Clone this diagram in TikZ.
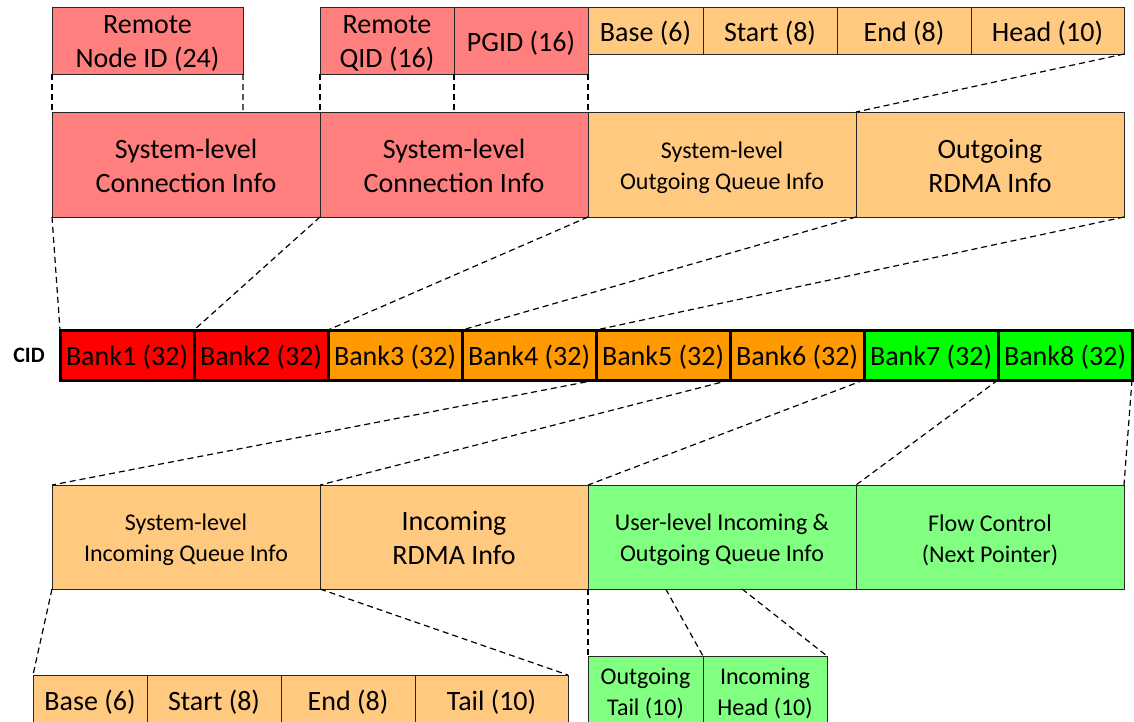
\documentclass[tikz,border=0pt]{standalone}
\usepackage{fontspec}
\setmainfont{Carlito}
\usetikzlibrary{calc}

\definecolor{connred}{HTML}{FF7F7F}
\definecolor{queueorange}{HTML}{FFCA80}
\definecolor{flowgreen}{HTML}{80FF80}
\definecolor{bankred}{HTML}{FF0000}
\definecolor{bankorange}{HTML}{FF9900}
\definecolor{bankgreen}{HTML}{00FF00}

\tikzset{
  % first-line strut that lowers a single text line inside its box
  drop/.style={execute at begin node={\rule{0pt}{#1}}},
  field/.style={draw=black!85, line width=0.8pt, inner sep=0pt, outer sep=0pt,
    align=center, font=\fontsize{28}{34}\selectfont, drop=21pt},
  topfield/.style={field, drop=25pt},
  bank/.style={draw=black, line width=3pt, inner sep=0pt, outer sep=0pt,
    minimum width=134pt, minimum height=50pt, font=\fontsize{28}{34}\selectfont, drop=24pt},
  % two-line captions, set as a centred label with a small downward offset
  bigtext/.style={inner sep=0pt, align=center, font=\fontsize{28}{34}\selectfont},
  smalltext/.style={inner sep=0pt, align=center, font=\fontsize{24}{31}\selectfont},
  twoline/.style 2 args={label={[bigtext, yshift=#1]center:{#2}}},
  smalltwo/.style 2 args={label={[smalltext, yshift=#1]center:{#2}}},
  zoomline/.style={draw=black, line width=1.2pt, dash pattern=on 6pt off 4pt},
}

\begin{document}
\begin{tikzpicture}[x=1pt,y=-1pt]
\useasboundingbox (0,0) rectangle (1134,721);
\clip (0,0) rectangle (1134,721);

% ---- top-level field breakdown ----
\node[field, fill=connred, minimum width=191pt, minimum height=67pt,
  twoline={-3pt}{Remote\\Node ID (24)}] (rnid) at (147.5,40.5) {};
\node[field, fill=connred, minimum width=134pt, minimum height=67pt,
  twoline={-3pt}{Remote\\QID (16)}] (rqid) at (387,40.5) {};
\node[topfield, fill=connred, minimum width=134pt, minimum height=67pt] (pgid) at (521,40.5) {PGID (16)};
\node[topfield, fill=queueorange, minimum width=115pt, minimum height=47pt] (obase) at (645.5,30.5) {Base (6)};
\node[topfield, fill=queueorange, minimum width=134pt, minimum height=47pt] (ostart) at (770,30.5) {Start (8)};
\node[topfield, fill=queueorange, minimum width=134pt, minimum height=47pt] (oend) at (904,30.5) {End (8)};
\node[topfield, fill=queueorange, minimum width=153pt, minimum height=47pt] (ohead) at (1047.5,30.5) {Head (10)};

% ---- upper bank groups ----
\node[field, fill=connred, minimum width=268pt, minimum height=105pt,
  twoline={-1pt}{System-level\\Connection Info}] (sc1) at (186,164.5) {};
\node[field, fill=connred, minimum width=268pt, minimum height=105pt,
  twoline={-1pt}{System-level\\Connection Info}] (sc2) at (454,164.5) {};
\node[field, fill=queueorange, minimum width=268pt, minimum height=105pt,
  smalltwo={-3pt}{System-level\\Outgoing Queue Info}] (soq) at (722,164.5) {};
\node[field, fill=queueorange, minimum width=268pt, minimum height=105pt,
  twoline={-1pt}{Outgoing\\RDMA Info}] (ordma) at (990,164.5) {};

% ---- CID banks ----
\node[font=\fontsize{22}{26}\selectfont\bfseries] (cid) at (29,355) {CID};
\foreach \i/\c in {1/bankred,2/bankred,3/bankorange,4/bankorange,5/bankorange,6/bankorange,7/bankgreen,8/bankgreen}
  \node[bank, fill=\c] (b\i) at ({60+134*(\i-0.5)},355) {Bank\i{} (32)};

% ---- lower bank groups ----
\node[field, fill=queueorange, minimum width=268pt, minimum height=104pt,
  smalltwo={-3pt}{System-level\\Incoming Queue Info}] (siq) at (186,537) {};
\node[field, fill=queueorange, minimum width=268pt, minimum height=104pt,
  twoline={-1pt}{Incoming\\RDMA Info}] (irdma) at (454,537) {};
\node[field, fill=flowgreen, minimum width=268pt, minimum height=104pt,
  smalltwo={-3pt}{User-level Incoming \&\\Outgoing Queue Info}] (uq) at (722,537) {};
\node[field, fill=flowgreen, minimum width=268pt, minimum height=104pt,
  smalltwo={-3pt}{Flow Control\\(Next Pointer)}] (fc) at (990,537) {};

% ---- bottom field breakdown ----
\node[field, fill=queueorange, minimum width=114pt, minimum height=53pt] (ibase) at (90,701.5) {Base (6)};
\node[field, fill=queueorange, minimum width=134pt, minimum height=53pt] (istart) at (214,701.5) {Start (8)};
\node[field, fill=queueorange, minimum width=134pt, minimum height=53pt] (iend) at (348,701.5) {End (8)};
\node[field, fill=queueorange, minimum width=153pt, minimum height=53pt] (itail) at (491.5,701.5) {Tail (10)};
\node[field, fill=flowgreen, minimum width=115pt, minimum height=72pt,
  smalltwo={-1pt}{Outgoing\\Tail (10)}] (otail) at (645.5,692) {};
\node[field, fill=flowgreen, minimum width=124pt, minimum height=72pt,
  smalltwo={-1pt}{Incoming\\Head (10)}] (ihead) at (765,692) {};

% ---- zoom connectors, top ----
\draw[zoomline] (rnid.south west) -- (sc1.north west);
\draw[zoomline] (rnid.south east) -- ($(sc1.north west)!0.7127!(sc1.north east)$);
\draw[zoomline] (rqid.south west) -- (sc2.north west);
\draw[zoomline] (rqid.south east) -- (sc2.north);
\draw[zoomline] (pgid.south east) -- (sc2.north east);
\draw[zoomline] (ohead.south east) -- (ordma.north west);

% ---- zoom connectors, into the CID ----
\draw[zoomline] (sc1.south west) -- (b1.north west);
\draw[zoomline] (sc1.south east) -- (b2.north west);
\draw[zoomline] (sc2.south east) -- (b3.north west);
\draw[zoomline] (soq.south east) -- (b4.north west);
\draw[zoomline] (ordma.south east) -- (b5.north west);

% ---- zoom connectors, out of the CID ----
\draw[zoomline] (b5.south west) -- (siq.north west);
\draw[zoomline] (b6.south west) -- (irdma.north west);
\draw[zoomline] (b7.south west) -- (uq.north west);
\draw[zoomline] (b8.south west) -- (fc.north west);
\draw[zoomline] (b8.south east) -- (fc.north east);

% ---- zoom connectors, bottom ----
\draw[zoomline] (siq.south west) -- (ibase.north west);
\draw[zoomline] (siq.south east) -- (itail.north east);
\draw[zoomline] (uq.south west) -- (otail.north west);
\draw[zoomline] ($(uq.south west)!0.29!(uq.south east)$) -- (otail.north east);
\draw[zoomline] ($(uq.south west)!0.575!(uq.south east)$) -- (ihead.north east);
\end{tikzpicture}
\end{document}
